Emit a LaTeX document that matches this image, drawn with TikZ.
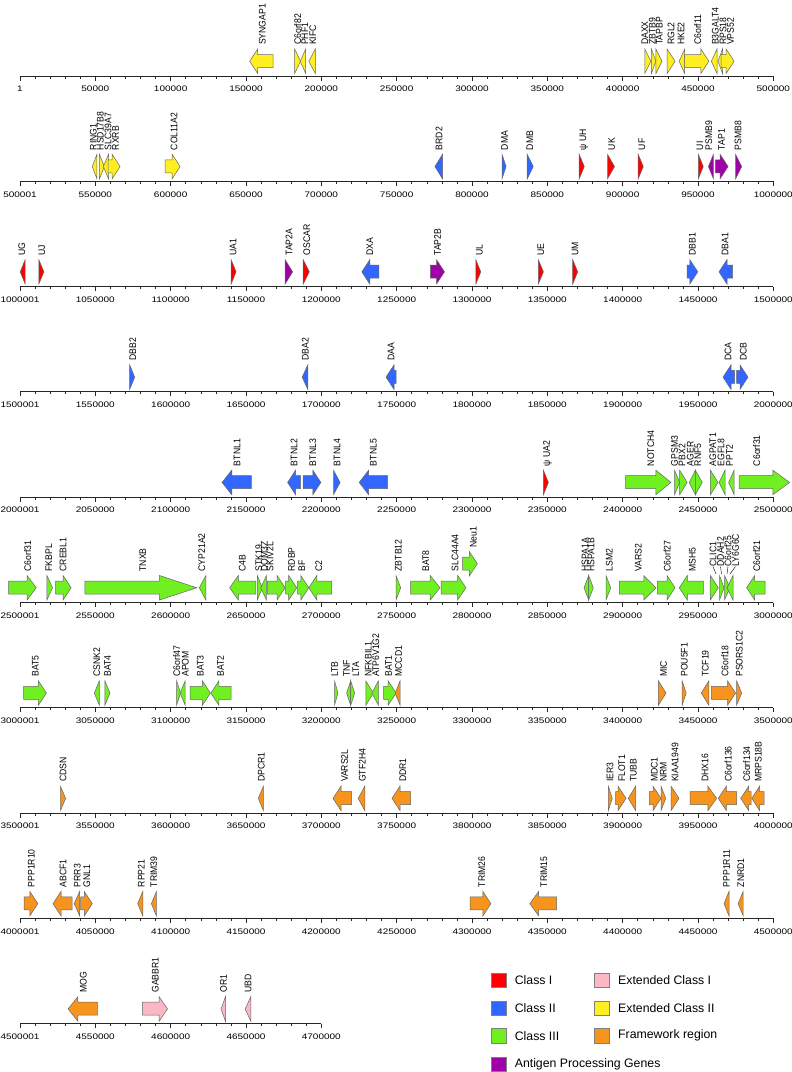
\documentclass[tikz,border=0pt]{standalone}
\usepackage{fontspec}
\setmainfont{Liberation Sans}
\newfontfamily\axf[FakeStretch=1.25]{Liberation Sans}
\newfontfamily\gf[FakeStretch=0.9]{Liberation Sans}
\definecolor{cI}{HTML}{FF0000}
\definecolor{cII}{HTML}{3366FF}
\definecolor{cIII}{HTML}{70F020}
\definecolor{cXI}{HTML}{F9B8C4}
\definecolor{cXII}{HTML}{FFEE22}
\definecolor{cFW}{HTML}{F7941E}
\definecolor{cAP}{HTML}{A000A8}
\newcounter{gc}
\tikzset{
 gshape/.style={draw=black!60, line width=0.5pt, line join=miter},
 glab/.style={rotate=90, anchor=west, inner sep=0pt, font=\gf\fontsize{9.6}{10}\selectfont},
 axnum/.style={inner sep=0pt, font=\axf\fontsize{8}{9}\selectfont},
 axline/.style={line width=1pt, draw=black!85},
 tk/.style={line width=0.6pt, draw=black!85},
 legbox/.style={draw=black!50, line width=0.6pt},
 legt/.style={anchor=west, inner sep=0pt, font=\fontsize{12.3}{13}\selectfont},
 lead/.style={draw=black, line width=0.4pt},
}
% \G[raise]{axis y}{x1}{x2}{R/L}{colour}{label}{label x}
\newcommand\G[8][0]{%
 \stepcounter{gc}%
 \pgfmathsetmacro\gL{#4-#3}%
 \pgfmathsetmacro\gh{min(max(\gL/3,8),\gL)}%
 \pgfmathsetmacro\ya{#2-#1-27}%
 \pgfmathsetmacro\yb{#2-#1-21.5}%
 \pgfmathsetmacro\yc{#2-#1-14.75}%
 \pgfmathsetmacro\yd{#2-#1-8.5}%
 \pgfmathsetmacro\ye{#2-#1-2.5}%
 \if R#5%
  \pgfmathsetmacro\xb{#4-\gh}%
  \filldraw[gshape, fill=#6] (#3,\yb) -- (\xb,\yb) -- (\xb,\ya) -- (#4,\yc) -- (\xb,\ye) -- (\xb,\yd) -- (#3,\yd) -- cycle;
 \else
  \pgfmathsetmacro\xb{#3+\gh}%
  \filldraw[gshape, fill=#6] (#4,\yb) -- (\xb,\yb) -- (\xb,\ya) -- (#3,\yc) -- (\xb,\ye) -- (\xb,\yd) -- (#4,\yd) -- cycle;
 \fi
 \if\relax\detokenize{#7}\relax\else
 \node[glab] (g\arabic{gc}) at (#8,{#2-#1-31}) {#7};%
 \fi
}
% \Axis{name}{y}{base}{majors}
\newcommand\Axis[4]{%
 \draw[axline] (20,#2) -- ({20+#4*75.333},#2);
 \pgfmathtruncatemacro\nmin{#4*5}%
 \foreach \i in {0,...,\nmin} { \draw[tk] ({20+\i*15.0667},#2) -- ++(0,2.5); }
 \foreach \k in {0,...,#4} {
   \draw[tk] ({20+\k*75.333},#2) -- ++(0,4.5);
   \node[axnum] (#1n\k) at ({20+\k*75.333},{#2+13}) {\ifnum\k=0 \the\numexpr#3+1\relax\else\the\numexpr#3+50000*\k\relax\fi};
 }
}
\newcommand\Leg[5]{%
 \filldraw[legbox, fill=#3] (#1,{#2-7.2}) rectangle ++(15,14.4);
 \node[legt] (#5) at ({#1+23.7},#2) {#4};
}
\begin{document}
\begin{tikzpicture}[x=1pt,y=-1pt]
\useasboundingbox (0,0) rectangle (792,1072);
\fill[white] (0,0) rectangle (792,1072);
% axes
\Axis{a1}{76}{0}{10}
\Axis{a2}{181.3}{500000}{10}
\Axis{a3}{286.6}{1000000}{10}
\Axis{a4}{391.9}{1500000}{10}
\Axis{a5}{497.2}{2000000}{10}
\Axis{a6}{602.5}{2500000}{10}
\Axis{a7}{707.8}{3000000}{10}
\Axis{a8}{813.1}{3500000}{10}
\Axis{a9}{918.4}{4000000}{10}
\Axis{a10}{1023.7}{4500000}{4}
% row 1
\G{76}{249.7}{273.0}{L}{cXII}{SYNGAP1}{262.4}
\G{76}{294.7}{300.5}{R}{cXII}{C6orf82}{297.7}
\G{76}{300.2}{305.7}{L}{cXII}{PHF1}{304.7}
\G{76}{308.8}{315.3}{L}{cXII}{KIFC}{312.8}
\G{76}{644.8}{650.9}{R}{cXII}{DAXX}{644.8}
\G{76}{651.4}{655.9}{R}{cXII}{ZBTB9}{652.4}
\G{76}{655.9}{662.0}{R}{cXII}{TAPBP}{659.4}
\G{76}{667.0}{675.1}{R}{cXII}{RGL2}{671.0}
\G{76}{679.1}{684.7}{L}{cXII}{HKE2}{681.1}
\G{76}{684.7}{708.9}{R}{cXII}{C6orf11}{697.8}
\G{76}{711.4}{717.0}{L}{cXII}{B3GALT4}{715.4}
\G{76}{718.0}{722.5}{L}{cXII}{RPS18}{723.0}
\G{76}{721.0}{734.1}{R}{cXII}{VPS52}{730.6}
% row 2
\G{181.3}{92.3}{96.9}{L}{cXII}{RING1}{93.3}
\G{181.3}{99.4}{104.4}{R}{cXII}{HSD17B8}{100.4}
\G{181.3}{103.4}{108.5}{L}{cXII}{SLC39A7}{108}
\G{181.3}{108}{120.1}{R}{cXII}{RXRB}{115.5}
\G{181.3}{165}{180.1}{R}{cXII}{COL11A2}{174.1}
\G{181.3}{434.9}{442.5}{L}{cII}{BRD2}{439}
\G{181.3}{502}{506.1}{R}{cII}{DMA}{504.5}
\G{181.3}{527.2}{533.3}{R}{cII}{DMB}{529.8}
\G{181.3}{579.2}{584.3}{R}{cI}{ψ UH}{583.8}
\G{181.3}{607.5}{614.5}{R}{cI}{UK}{611.5}
\G{181.3}{638.2}{643.3}{R}{cI}{UF}{641.8}
\G{181.3}{698.3}{703.3}{R}{cI}{UI}{699.8}
\G{181.3}{708.4}{713.4}{L}{cAP}{PSMB9}{708.9}
\G{181.3}{715.4}{728.1}{R}{cAP}{TAP1}{721.5}
\G{181.3}{735.6}{741.7}{R}{cAP}{PSMB8}{738.1}
% row 3
\G{286.6}{20.2}{25.2}{L}{cI}{UG}{21.7}
\G{286.6}{38.8}{43.9}{R}{cI}{UJ}{41.9}
\G{286.6}{231.1}{236.1}{R}{cI}{UA1}{233.1}
\G{286.6}{285.1}{292.6}{R}{cAP}{TAP2A}{289.1}
\G{286.6}{303.2}{309.3}{R}{cI}{OSCAR}{306.8}
\G{286.6}{361.8}{378.9}{L}{cII}{DXA}{369.8}
\G{286.6}{430.4}{444.5}{R}{cAP}{TAP2B}{437.4}
\G{286.6}{475.8}{480.8}{R}{cI}{UL}{479.3}
\G{286.6}{538.3}{543.4}{R}{cI}{UE}{540.9}
\G{286.6}{572.7}{577.7}{R}{cI}{UM}{575.2}
\G{286.6}{687.2}{697.8}{R}{cII}{DBB1}{692.2}
\G{286.6}{719}{732.6}{L}{cII}{DBA1}{725}
% row 4
\G{391.9}{129.7}{134.7}{R}{cII}{DBB2}{132.7}
\G{391.9}{302.2}{307.8}{L}{cII}{DBA2}{305.2}
\G{391.9}{386}{396.1}{L}{cII}{DAA}{391}
\G{391.9}{723}{734.5}{L}{cII}{DCA}{728}
\G{391.9}{736.5}{748}{R}{cII}{DCB}{743.2}
% row 5
\G{497.2}{222}{251.3}{L}{cII}{BTNL1}{237.1}
\G{497.2}{287.6}{300.7}{L}{cII}{BTNL2}{294.1}
\G{497.2}{303.2}{320.9}{R}{cII}{BTNL3}{312.8}
\G{497.2}{333.5}{340.1}{R}{cII}{BTNL4}{337}
\G{497.2}{359.2}{387.5}{L}{cII}{BTNL5}{373.4}
\G{497.2}{543.4}{548.4}{R}{cI}{ψ UA2}{547.4}
\G{497.2}{625.6}{671}{R}{cIII}{NOTCH4}{650.9}
\G{497.2}{674.6}{679.6}{R}{cIII}{GPSM3}{674.6}
\G{497.2}{679.6}{687.2}{R}{cIII}{PBX2}{682.1}
\G{497.2}{689.2}{695.3}{L}{cIII}{AGER}{690.2}
\G{497.2}{695.3}{702.3}{R}{cIII}{RNF5}{697.8}
\G{497.2}{710.4}{718}{R}{cIII}{AGPAT1}{712.9}
\G{497.2}{719}{725}{L}{cIII}{EGFL8}{721}
\G{497.2}{728.6}{734.1}{L}{cIII}{PPT2}{729.6}
\G{497.2}{739.2}{789.6}{R}{cIII}{C6orf31}{756.8}
% row 6
\G{602.5}{8.6}{36.3}{R}{cIII}{C6orf31}{27.7}
\G{602.5}{46.9}{52.5}{R}{cIII}{FKBPL}{48.9}
\G{602.5}{55.5}{71.1}{R}{cIII}{CREBL1}{63.1}
\G{602.5}{84.8}{196.8}{R}{cIII}{TNXB}{142.8}
\G{602.5}{199.3}{205.9}{L}{cIII}{CYP21A2}{201.8}
\G{602.5}{229.6}{255.8}{L}{cIII}{C4B}{242.2}
\G{602.5}{257.3}{262.4}{R}{cIII}{STK19}{258.8}
\G{602.5}{260.8}{266.4}{L}{cIII}{DOM3Z}{264.4}
\G{602.5}{267.4}{285.1}{R}{cIII}{SKIV2L}{270}
\G{602.5}{285.6}{296.7}{R}{cIII}{RDBP}{291.6}
\G{602.5}{297.7}{308.8}{R}{cIII}{BF}{301.7}
\G{602.5}{308.8}{331.5}{L}{cIII}{C2}{318.9}
\G{602.5}{396}{400.7}{R}{cIII}{ZBTB12}{398.3}
\G{602.5}{410.7}{440}{R}{cIII}{BAT8}{425.7}
\G{602.5}{441}{466}{R}{cIII}{SLC44A4}{455}
\G[24]{602.5}{462.7}{477.3}{R}{cIII}{Neu1}{473.3}
\G{602.5}{584}{588.7}{L}{cIII}{HSPA1A}{585}
\G{602.5}{588.7}{593.3}{R}{cIII}{HSPA1B}{591}
\G{602.5}{606}{610.7}{R}{cIII}{LSM2}{609.3}
\G{602.5}{619.3}{656}{R}{cIII}{VARS2}{638.3}
\G{602.5}{657.3}{675}{R}{cIII}{C6orf27}{667.3}
\G{602.5}{679.3}{703.3}{L}{cIII}{MSH5}{692.3}
\G{602.5}{710}{718.3}{R}{cIII}{}{0}
\G{602.5}{719.5}{724}{R}{cIII}{}{0}
\G{602.5}{724.5}{730}{R}{cIII}{}{0}
\G{602.5}{727}{733}{L}{cIII}{}{0}
\G{602.5}{746.7}{765}{L}{cIII}{C6orf21}{756.7}
\node[glab] (clic1) at (713,566.5) {CLIC1};
\node[glab] (ddah2) at (720.5,566.5) {DDAH2};
\node[glab] (c6orf25) at (728,566.5) {C6orf25};
\node[glab] (ly6g6c) at (735.5,566.5) {LY6G6C};
\coordinate (pclic1) at (716,574);
\coordinate (pddah2) at (721.5,574);
\coordinate (pc6orf25) at (727,574);
\coordinate (ply6g6c) at (730,574);
\draw[lead] (clic1.west) -- (pclic1);
\draw[lead] (ddah2.west) -- (pddah2);
\draw[lead] (c6orf25.west) -- (pc6orf25);
\draw[lead] (ly6g6c.west) -- (ply6g6c);
% row 7
\G{707.8}{23.7}{46.4}{R}{cIII}{BAT5}{35.3}
\G{707.8}{94.3}{99.4}{L}{cIII}{CSNK2}{96.9}
\G{707.8}{104.9}{110}{R}{cIII}{BAT4}{107.5}
\G{707.8}{176.6}{180.6}{R}{cIII}{C6orf47}{176.6}
\G{707.8}{180.1}{185.2}{L}{cIII}{APOM}{185.2}
\G{707.8}{190.2}{210.4}{R}{cIII}{BAT3}{200.3}
\G{707.8}{210.9}{231.1}{L}{cIII}{BAT2}{220.5}
\G{707.8}{334.5}{338}{R}{cIII}{LTB}{334.5}
\G{707.8}{346.6}{350.7}{L}{cIII}{TNF}{346.6}
\G{707.8}{350.7}{354.7}{R}{cIII}{LTA}{355.7}
\G{707.8}{365.8}{373.4}{R}{cIII}{NFKBIL1}{368.3}
\G{707.8}{371.8}{378.4}{L}{cIII}{ATP6V1G2}{375.9}
\G{707.8}{383.5}{396.1}{R}{cIII}{BAT1}{388.5}
\G{707.8}{395.1}{400.1}{L}{cFW}{MCCD1}{398.6}
\G{707.8}{658.4}{666}{R}{cFW}{MIC}{663.5}
\G{707.8}{682.1}{686.2}{R}{cFW}{POU5F1}{684.2}
\G{707.8}{701.3}{708.9}{L}{cFW}{TCF19}{705.4}
\G{707.8}{711.4}{735.6}{R}{cFW}{C6orf18}{725}
\G{707.8}{736.6}{741.7}{R}{cFW}{PSORS1C2}{739.2}
% row 8
\G{813.1}{60.5}{65.6}{R}{cFW}{CDSN}{63.1}
\G{813.1}{258.3}{263.4}{L}{cFW}{DPCR1}{261.4}
\G{813.1}{333}{351.7}{L}{cFW}{VARS2L}{344.6}
\G{813.1}{358.2}{364.8}{L}{cFW}{GTF2H4}{362.3}
\G{813.1}{392}{410.7}{L}{cFW}{DDR1}{402.7}
\G{813.1}{608.3}{612.3}{R}{cFW}{IER3}{610}
\G{813.1}{615.7}{626}{R}{cFW}{FLOT1}{621.7}
\G{813.1}{628.3}{635.7}{L}{cFW}{TUBB}{633.3}
\G{813.1}{649.3}{661}{R}{cFW}{MDC1}{654.3}
\G{813.1}{661}{665.7}{R}{cFW}{NRM}{663.3}
\G{813.1}{671}{679}{R}{cFW}{KIAA1949}{675}
\G{813.1}{690}{716.7}{R}{cFW}{DHX16}{705}
\G{813.1}{718.3}{736.7}{L}{cFW}{C6orf136}{728.3}
\G{813.1}{740.7}{751}{L}{cFW}{C6orf134}{746.7}
\G{813.1}{751.7}{764}{L}{cFW}{MRPS18B}{758.3}
% row 9
\G{918.4}{24.2}{37.8}{R}{cFW}{PPP1R10}{31.3}
\G{918.4}{53}{72.1}{L}{cFW}{ABCF1}{63.1}
\G{918.4}{74.2}{79.7}{L}{cFW}{PRR3}{77.2}
\G{918.4}{80.7}{92.3}{R}{cFW}{GNL1}{86.8}
\G{918.4}{137.7}{142.8}{L}{cFW}{RPP21}{141.3}
\G{918.4}{151.4}{156.4}{L}{cFW}{TRIM39}{153.9}
\G{918.4}{470.2}{490.9}{R}{cFW}{TRIM26}{481.8}
\G{918.4}{529.8}{556.5}{L}{cFW}{TRIM15}{543.9}
\G{918.4}{724}{729}{L}{cFW}{PPP1R11}{726.5}
\G{918.4}{738.1}{743.2}{L}{cFW}{ZNRD1}{740.7}
% row 10
\G{1023.7}{68.1}{97.4}{L}{cFW}{MOG}{83.2}
\G{1023.7}{142.3}{167.5}{R}{cXI}{GABBR1}{155.4}
\G{1023.7}{221}{225.5}{L}{cXI}{OR1}{223.5}
\G{1023.7}{245.2}{250.8}{L}{cXI}{UBD}{248.2}
% legend
\Leg{490.9}{980.5}{cI}{Class I}{lg1}
\Leg{490.9}{1008}{cII}{Class II}{lg2}
\Leg{490.9}{1035.6}{cIII}{Class III}{lg3}
\Leg{490.9}{1064.5}{cAP}{Antigen Processing Genes}{lg4}
\Leg{594.3}{980.5}{cXI}{Extended Class I}{lg5}
\Leg{594.3}{1008}{cXII}{Extended Class II}{lg6}
\Leg{594.3}{1035.6}{cFW}{Framework region}{lg7}
\end{tikzpicture}
\end{document}
